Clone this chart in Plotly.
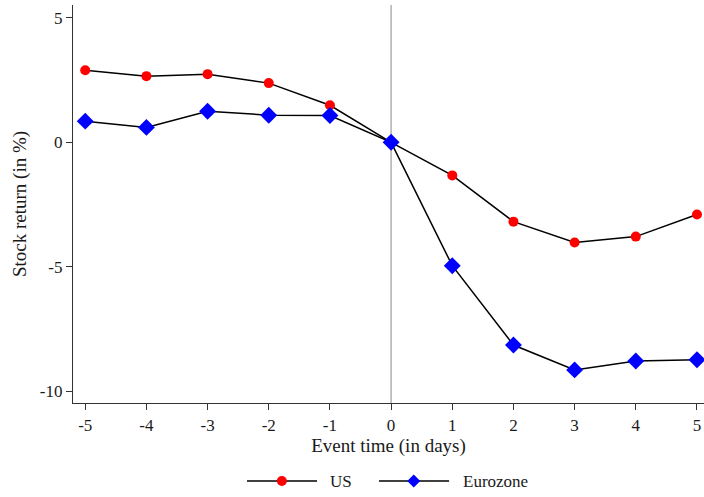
import plotly.graph_objects as go

days = [-5, -4, -3, -2, -1, 0, 1, 2, 3, 4, 5]
us = [2.90, 2.66, 2.74, 2.38, 1.49, 0.0, -1.33, -3.19, -4.03, -3.79, -2.90]
euro = [0.85, 0.60, 1.25, 1.09, 1.08, 0.0, -4.96, -8.15, -9.15, -8.79, -8.74]
xticks = [-5, -4, -3, -2, -1, 0, 1, 2, 3, 4, 5]
xticklabels = ["-5", "-4", "-3", "-2", "-1", "0", "1", "2", "3", "4", "5"]
yticks = [-10, -5, 0, 5]
yticklabels = ["-10", "-5", "0", "5"]
series_names = ["US", "Eurozone"]

fam = "Liberation Serif, Times New Roman, serif"
txt = "#1a1a1a"

fig = go.Figure()
fig.add_trace(go.Scatter(x=days, y=us, mode="lines+markers", name=series_names[0],
                         line=dict(color="black", width=1.5),
                         marker=dict(symbol="circle", size=10, color="#ff0000")))
fig.add_trace(go.Scatter(x=days, y=euro, mode="lines+markers", name=series_names[1],
                         line=dict(color="black", width=1.5),
                         marker=dict(symbol="diamond", size=13, color="#0000ff")))
fig.add_shape(type="line", xref="x", yref="paper", x0=0, x1=0, y0=0, y1=1,
              line=dict(color="#b0b0b0", width=1.5), layer="below")

# custom legend (paper coordinates)
ly = -0.196
for (xa, xb, xm, xt, sym, col, name) in [
    (0.2757, 0.3867, 0.331, 0.404, "circle", "#ff0000", series_names[0]),
    (0.485, 0.596, 0.540, 0.615, "diamond", "#0000ff", series_names[1]),
]:
    fig.add_shape(type="line", xref="paper", yref="paper", x0=xa, x1=xb, y0=ly, y1=ly,
                  line=dict(color="black", width=1.5))
    if sym == "circle":
        fig.add_shape(type="circle", xref="paper", yref="paper",
                      xsizemode="pixel", ysizemode="pixel", xanchor=xm, yanchor=ly,
                      x0=-5, x1=5, y0=-5, y1=5, fillcolor=col, line=dict(width=0))
    else:
        fig.add_shape(type="path", xref="paper", yref="paper",
                      xsizemode="pixel", ysizemode="pixel", xanchor=xm, yanchor=ly,
                      path="M -6.5 0 L 0 6.5 L 6.5 0 L 0 -6.5 Z", fillcolor=col, line=dict(width=0))
    fig.add_annotation(x=xt, y=ly, xref="paper", yref="paper", text=name, showarrow=False,
                       xanchor="left", yanchor="middle", font=dict(family=fam, size=17, color=txt))

fig.update_layout(
    width=704, height=497,
    margin=dict(l=73, r=0, t=5, b=94),
    paper_bgcolor="white", plot_bgcolor="white",
    font=dict(family=fam, size=16, color=txt),
    showlegend=False,
    xaxis=dict(range=[-5.2, 5.115], tickvals=xticks, ticktext=xticklabels, ticks="outside", ticklen=6,
               tickcolor="#333", showline=True, linecolor="#333", linewidth=1.3,
               showgrid=False, zeroline=False, ticklabelstandoff=0,
               title=dict(text="Event time (in days)", standoff=1),
               tickfont=dict(size=17)),
    yaxis=dict(range=[-10.48, 5.52], tickvals=yticks, ticktext=yticklabels, ticks="outside", ticklen=6,
               tickcolor="#333", showline=True, linecolor="#333", linewidth=1.3,
               showgrid=False, zeroline=False,
               title=dict(text="Stock return (in %)", standoff=8),
               tickfont=dict(size=17)),
)
fig.write_html("out.html")
